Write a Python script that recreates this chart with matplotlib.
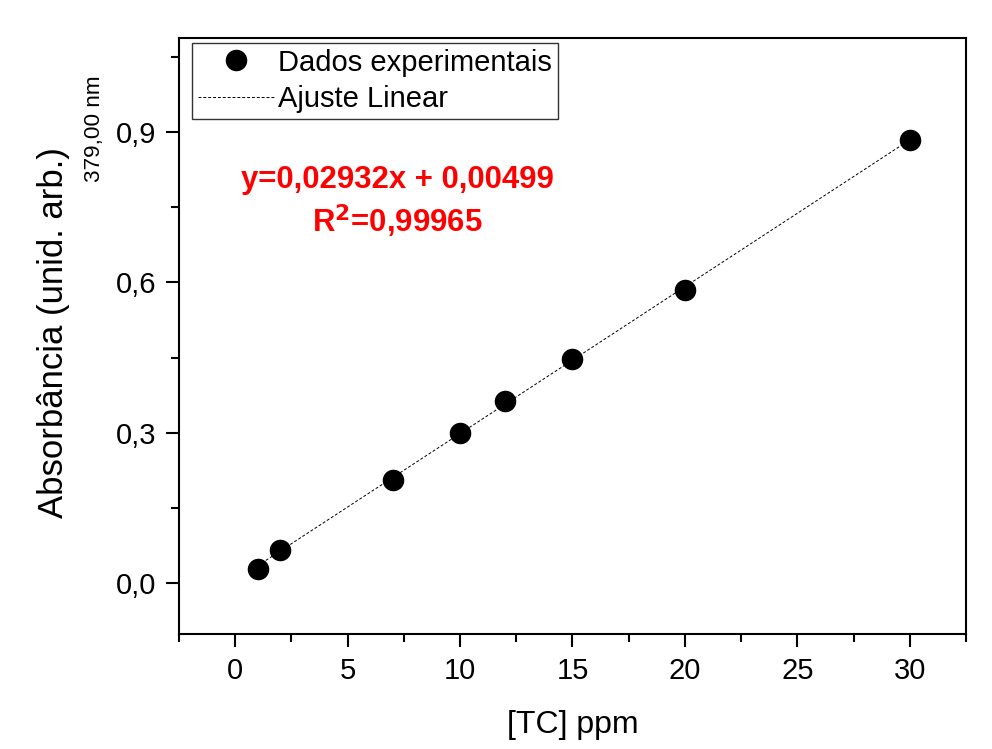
import numpy as np
import matplotlib.pyplot as plt

plt.rcParams['font.family'] = ['Liberation Sans', 'DejaVu Sans']

# dados
conc = np.array([1, 2, 7, 10, 12, 15, 20, 30])
absorb = np.array([0.028, 0.066, 0.206, 0.299, 0.363, 0.448, 0.585, 0.884])

slope = 0.02932
intercept = 0.00499

xticks = [0, 5, 10, 15, 20, 25, 30]
yticks = [0.0, 0.3, 0.6, 0.9]
ytick_labels = ['0,0', '0,3', '0,6', '0,9']

fig = plt.figure(figsize=(9.92, 7.49), dpi=100)
ax = fig.add_axes([0.1804, 0.1535, 0.7934, 0.7958])

xf = np.array([conc[0], conc[-1]])
ax.plot(conc, absorb, 'o', color='black', markersize=14.5, label='Dados experimentais', zorder=3)
ax.plot(xf, slope * xf + intercept, '--', color='black', lw=0.7, dashes=(3, 2),
        label='Ajuste Linear', zorder=2)

ax.set_xlim(-2.5, 32.5)
ax.set_xticks(xticks)
ax.set_xticks(np.arange(-2.5, 33, 2.5), minor=True)
ax.set_yticks(yticks)
ax.set_yticklabels(ytick_labels)
ax.set_yticks(np.arange(-0.15, 1.1, 0.15), minor=True)
ax.set_ylim(-0.102, 1.088)

ax.tick_params(which='both', direction='out', width=1.5, labelsize=21, top=False, right=False)
ax.tick_params(which='major', length=9.5)
ax.tick_params(axis='x', which='major', pad=7)
ax.tick_params(axis='y', which='major', pad=7)
ax.tick_params(which='minor', length=5.5)
for s in ax.spines.values():
    s.set_linewidth(1.5)

ax.set_xlabel('[TC] ppm', fontsize=23)
ax.xaxis.set_label_coords(0.5, -0.128)
ax.set_ylabel('Absorbância (unid. arb.)', fontsize=25)
ax.yaxis.set_label_coords(-0.139, 0.505)
fig.text(0.095, 0.828, '379,00 nm', rotation=90, fontsize=16.2, ha='center', va='center')

leg = ax.legend(loc='upper left', fontsize=21, frameon=True, fancybox=False,
                edgecolor='black', borderpad=0.2, handlelength=2.6,
                handletextpad=0.15, labelspacing=0.28, borderaxespad=0,
                bbox_to_anchor=(0.0165, 0.992))
leg.get_frame().set_linewidth(1.0)

ax.text(0.277, 0.762, 'y=0,02932x + 0,00499', transform=ax.transAxes, color='red',
        fontsize=22.4, fontweight='bold', ha='center', va='center')
ax.text(0.277, 0.692, r'R$^\mathbf{2}$=0,99965', transform=ax.transAxes, color='red',
        fontsize=22.4, fontweight='bold', ha='center', va='center')

fig.savefig('out.png', dpi=100)
